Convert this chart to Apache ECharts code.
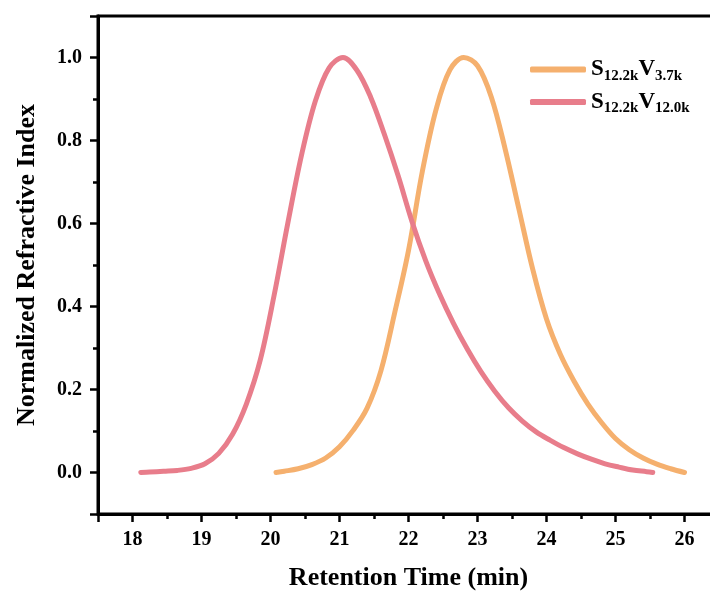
<!DOCTYPE html>
<html>
<head>
<meta charset="utf-8">
<script src="https://cdn.jsdelivr.net/npm/echarts@6/dist/echarts.min.js"></script>
<style>
html,body{margin:0;padding:0;background:#fff;}
#chart{width:710px;height:596px;}
</style>
</head>
<body>
<div id="chart"></div>
<script>
// Series names (rich-text formatted in legend)
const seriesNames = ['S12.2kV3.7k', 'S12.2kV12.0k'];

// S12.2kV3.7k (orange)
const orangeX = [20.08, 20.2, 20.4, 20.6, 20.8, 21.0, 21.2, 21.4, 21.6, 21.8, 22.0, 22.2, 22.4, 22.6, 22.8, 23.0, 23.2, 23.4, 23.6, 23.8, 24.0, 24.2, 24.4, 24.6, 24.8, 25.0, 25.2, 25.4, 25.6, 25.8, 26.0];
const orangeY = [0.0, 0.003, 0.009, 0.019, 0.035, 0.062, 0.102, 0.155, 0.245, 0.385, 0.535, 0.725, 0.875, 0.97, 1.0, 0.98, 0.905, 0.78, 0.635, 0.49, 0.37, 0.285, 0.22, 0.165, 0.12, 0.082, 0.055, 0.035, 0.02, 0.009, 0.0];

// S12.2kV12.0k (pink)
const pinkX = [18.12, 18.25, 18.45, 18.65, 18.85, 19.05, 19.25, 19.45, 19.65, 19.85, 20.05, 20.25, 20.45, 20.65, 20.85, 21.05, 21.25, 21.45, 21.65, 21.85, 22.05, 22.25, 22.45, 22.65, 22.85, 23.05, 23.25, 23.45, 23.65, 23.85, 24.05, 24.25, 24.45, 24.65, 24.85, 25.05, 25.25, 25.45, 25.54];
const pinkY = [0.0, 0.001, 0.003, 0.005, 0.01, 0.021, 0.046, 0.092, 0.165, 0.27, 0.425, 0.6, 0.765, 0.895, 0.975, 1.0, 0.97, 0.905, 0.815, 0.715, 0.605, 0.51, 0.43, 0.36, 0.298, 0.243, 0.196, 0.156, 0.124, 0.098, 0.078, 0.06, 0.045, 0.032, 0.021, 0.013, 0.006, 0.002, 0.0];

const xTitle = 'Retention Time (min)';
const yTitle = 'Normalized Refractive Index';

const FONT = '"Liberation Serif", "DejaVu Serif", serif';
const colors = ['#F5B06E', '#E87D8B'];

function zip(xs, ys) { return xs.map((x, i) => [x, ys[i]]); }

const chart = echarts.init(document.getElementById('chart'), null, {renderer: 'canvas'});

const legendRich = {
  b: {fontFamily: FONT, fontWeight: 'bold', fontSize: 23, color: '#000', lineHeight: 28},
  s: {fontFamily: FONT, fontWeight: 'bold', fontSize: 15, color: '#000', verticalAlign: 'bottom'}
};

function legendFmt(name) {
  const m = name.match(/^S([\d.]+k)V([\d.]+k)$/);
  if (!m) return name;
  return '{b|S}{s|' + m[1] + '}{b|V}{s|' + m[2] + '}';
}

const option = {
  backgroundColor: '#fff',
  animation: false,
  grid: {
    left: 98, top: 16, right: -9, bottom: 82,
    outerBoundsMode: 'none',
    containLabel: false,
    show: true, borderColor: '#000', borderWidth: 3, backgroundColor: 'transparent'
  },
  legend: {
    data: seriesNames,
    orient: 'vertical',
    left: 525, top: 53,
    itemWidth: 56, itemHeight: 6, itemGap: 7,
    icon: 'roundRect',
    formatter: legendFmt,
    textStyle: {rich: legendRich, fontFamily: FONT, fontWeight: 'bold', fontSize: 23, color: '#000'}
  },
  xAxis: {
    type: 'value',
    min: 17.5, max: 26.5, splitNumber: 9,
    name: xTitle, nameLocation: 'middle', nameGap: 51,
    nameTextStyle: {fontFamily: FONT, fontWeight: 'bold', fontSize: 26, color: '#000'},
    axisLine: {show: true, onZero: false, lineStyle: {color: '#000', width: 3}},
    axisTick: {show: true, inside: false, length: 8, lineStyle: {color: '#000', width: 2.5}},
    minorTick: {show: true, splitNumber: 2, length: 5, lineStyle: {color: '#000', width: 2.5}},
    splitLine: {show: false},
    axisLabel: {showMinLabel: false, showMaxLabel: false, margin: 16, fontFamily: FONT, fontWeight: 'bold', fontSize: 20, color: '#000'}
  },
  yAxis: {
    type: 'value',
    min: -0.1, max: 1.1, splitNumber: 6,
    name: yTitle, nameLocation: 'middle', nameGap: 58, nameRotate: 90,
    nameTextStyle: {fontFamily: FONT, fontWeight: 'bold', fontSize: 26, color: '#000'},
    axisLine: {show: true, onZero: false, lineStyle: {color: '#000', width: 3}},
    axisTick: {show: true, inside: false, length: 8, lineStyle: {color: '#000', width: 2.5}},
    minorTick: {show: true, splitNumber: 2, length: 5, lineStyle: {color: '#000', width: 2.5}},
    splitLine: {show: false},
    axisLabel: {showMinLabel: false, showMaxLabel: false, margin: 16, fontFamily: FONT, fontWeight: 'bold', fontSize: 20, color: '#000',
      formatter: v => v.toFixed(1)}
  },
  series: [
    {
      name: seriesNames[0], type: 'line', data: zip(orangeX, orangeY), smooth: 0.35,
      showSymbol: false, symbol: 'none', z: 2,
      itemStyle: {color: colors[0]},
      lineStyle: {color: colors[0], width: 5, cap: 'round', join: 'round'}
    },
    {
      name: seriesNames[1], type: 'line', data: zip(pinkX, pinkY), smooth: 0.35,
      showSymbol: false, symbol: 'none', z: 3,
      itemStyle: {color: colors[1]},
      lineStyle: {color: colors[1], width: 5, cap: 'round', join: 'round'}
    }
  ]
};

chart.setOption(option);
</script>
</body>
</html>
